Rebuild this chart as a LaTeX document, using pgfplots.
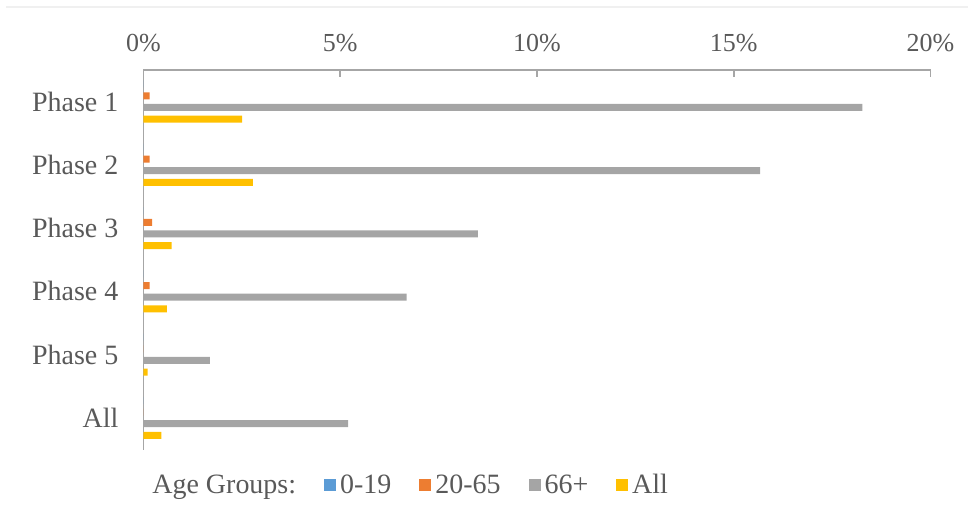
\documentclass[border=0pt]{standalone}
\usepackage{pgfplots}
\pgfplotsset{compat=1.18}
\usepackage{fontspec}
\setmainfont{Liberation Serif}
\definecolor{cBlue}{HTML}{5B9BD5}
\definecolor{cOrange}{HTML}{ED7D31}
\definecolor{cGray}{HTML}{A5A5A5}
\definecolor{cYellow}{HTML}{FFC000}
\definecolor{txt}{HTML}{595959}
\definecolor{axc}{HTML}{A6A6A6}
\begin{document}
\begin{tikzpicture}
\begin{axis}[
 name=ax,
 scale only axis, width=394pt, height=190pt,
 xbar, bar width=3.5pt,
 xmin=0, xmax=20, ymin=-0.5, ymax=5.5, y dir=reverse,
 axis x line=top, axis y line=left,
 axis line style={-, draw=axc, line width=0.8pt},
 xtick={0,5,10,15,20}, xticklabels={0\%,5\%,10\%,15\%,20\%},
 ytick={0,...,5}, yticklabels={Phase 1,Phase 2,Phase 3,Phase 4,Phase 5,All},
 tick align=inside,
 x tick style={draw=axc, line width=0.8pt}, major tick length=3.5pt,
 y tick style={draw=none},
 xticklabel style={font=\fontsize{13}{15}\selectfont, text=txt, yshift=5.5pt},
 yticklabel style={font=\fontsize{14}{16}\selectfont, text=txt, xshift=-9pt},
 legend columns=5,
 legend style={at={(0.339,-0.0947)}, anchor=center, draw=none, fill=none,
   font=\fontsize{14}{16}\selectfont, text=txt,
   /tikz/every even column/.append style={column sep=12pt}},
]
\addlegendimage{empty legend}
\addlegendentry{Age Groups:}
\addplot[fill=cBlue, draw=none, bar shift=8.8pt,
  legend image code/.code={\fill[cBlue] (0pt,-3pt) rectangle (6pt,3pt);}]
  coordinates {(0,0) (0,1) (0,2) (0,3) (0,4) (0,5)};
\addlegendentry{0-19}
\addplot[fill=cOrange, draw=none, bar shift=2.9pt,
  legend image code/.code={\fill[cOrange] (0pt,-3pt) rectangle (6pt,3pt);}]
  coordinates {(0.16,0) (0.16,1) (0.22,2) (0.16,3) (0,4) (0,5)};
\addlegendentry{20-65}
\addplot[fill=cGray, draw=none, bar shift=-2.9pt,
  legend image code/.code={\fill[cGray] (0pt,-3pt) rectangle (6pt,3pt);}]
  coordinates {(18.27,0) (15.67,1) (8.50,2) (6.69,3) (1.69,4) (5.20,5)};
\addlegendentry{66+}
\addplot[fill=cYellow, draw=none, bar shift=-8.8pt,
  legend image code/.code={\fill[cYellow] (0pt,-3pt) rectangle (6pt,3pt);}]
  coordinates {(2.51,0) (2.78,1) (0.72,2) (0.60,3) (0.11,4) (0.46,5)};
\addlegendentry{All}
\end{axis}
\draw[color=black!6, line width=1pt] ([shift={(-68.75pt,221.5pt)}]ax.south west) -- ([shift={(412.75pt,221.5pt)}]ax.south west);
\useasboundingbox ([shift={(-71.75pt,-34pt)}]ax.south west) rectangle ([shift={(412.75pt,225pt)}]ax.south west);
\end{tikzpicture}
\end{document}
